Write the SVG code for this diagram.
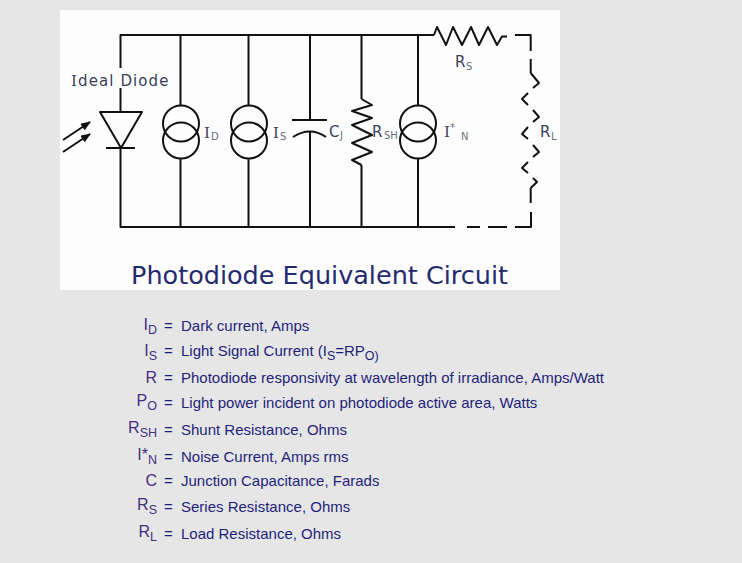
<svg xmlns="http://www.w3.org/2000/svg" width="742" height="563" viewBox="0 0 742 563">
<style>
.w{fill:none;stroke:#111;stroke-width:2;stroke-linejoin:round}
.n{fill:none;stroke:#111;stroke-width:2}
.c{font-family:"DejaVu Sans",sans-serif;font-size:15px;fill:#3a3f5c}
.i{font-family:"DejaVu Serif",serif}
.s{font-family:"DejaVu Sans",sans-serif;font-size:10px;fill:#6a6f80}
.t{font-family:"DejaVu Sans",sans-serif;font-size:25.5px;fill:#25296e}
.l{font-family:"Liberation Sans",Arial,sans-serif;font-size:15px;fill:#1f1f7a}
.k{font-family:"Liberation Sans",Arial,sans-serif;font-size:16px;fill:#42307f;text-anchor:end}
.b{font-size:12.500px}
</style>
<defs><marker id="a" markerWidth="10" markerHeight="8" refX="9" refY="4" orient="auto" markerUnits="userSpaceOnUse"><path d="M0 0L10 4L0 8z" fill="#111"/></marker>
<g id="src"><circle cx="0" cy="-8.500" r="18" class="n"/><circle cx="0" cy="8.500" r="18" class="n"/></g></defs>
<rect width="742" height="563" fill="#e6e6e6"/>
<rect x="60" y="10" width="500" height="280" fill="#fdfdfd"/>
<g id="connectors">
<path class="w" d="M120.500 68V35H434M120.500 88V112M120.500 148V227H455"/>
<path class="w" d="M180.500 35V105M180.500 158V227M248.500 35V105M248.500 158V227M310 35V120M310 132V227M361.500 35V99M361.500 165V227M418 35V105M418 158V227"/>
<path class="w" d="M467 227H480M488 227H507M515 227H531V212M530.700 203V188"/>
<path class="w" d="M434 35L437 27L446 45L453 27L462 45L471 27L479 45L488 27L497 45L502 36.500H507M515 35H530.700V51M530.700 59V73"/>
<path class="w" d="M530.700 73L539 83L533 88M528 93L522 99L528 105M533 110L539 117L533 122M528 127L522 134L528 139M533 145L539 152L533 157M528 162L522 168L528 173M533 178L537 182L530.700 188"/>
</g>
<g id="diode">
<path class="w" d="M100 112H142L121 148ZM106 148H135"/>
<path class="w" d="M63 140L90 122" marker-end="url(#a)"/><path class="w" d="M63 152L90 134" marker-end="url(#a)"/>
<text class="c" x="71" y="86" letter-spacing="1.100"><tspan class="i">I</tspan>deal Diode</text>
</g>
<g id="id-source"><use href="#src" x="181" y="132"/><text class="c i" x="204" y="138">I</text><text class="s" x="211" y="140">D</text></g>
<g id="is-source"><use href="#src" x="249" y="132"/><text class="c i" x="273" y="138">I</text><text class="s" x="280" y="140">S</text></g>
<g id="cj"><path class="n" d="M292 120H327M293 137Q310 126 326 137"/><text class="c" x="329" y="137">C</text><text class="s" x="340" y="139">J</text></g>
<g id="rsh"><path class="w" d="M361.500 99L372 105L352 111L372 118L352 125L372 135L352 143L372 152L352 160L361.500 165"/><text class="c" x="372" y="137">R</text><text class="s" x="384" y="139">SH</text></g>
<g id="in-source"><use href="#src" x="418" y="132"/><text class="c i" x="444" y="137">I</text><text class="s" x="450" y="131">*</text><text class="s" x="461" y="140">N</text></g>
<g id="rs"><text class="c" x="455" y="67">R</text><text class="s" x="466" y="70">S</text></g>
<g id="rl"><text class="c" x="540" y="137">R</text><text class="s" x="551" y="140">L</text></g>
<text class="t" x="131" y="284">Photodiode Equivalent Circuit</text>
<g id="legend">
<text class="k" x="157" y="330">I<tspan dy="4" class="b">D</tspan></text><text class="l" x="164" y="331">=</text><text class="l" x="181" y="331">Dark current, Amps</text>
<text class="k" x="157" y="356">I<tspan dy="4" class="b">S</tspan></text><text class="l" x="164" y="356">=</text><text class="l" x="181" y="356">Light Signal Current (I<tspan dy="4" class="b">S</tspan><tspan dy="-4">=RP</tspan><tspan dy="4" class="b">O)</tspan></text>
<text class="k" x="157" y="383">R</text><text class="l" x="164" y="383">=</text><text class="l" x="181" y="383">Photodiode responsivity at wavelength of irradiance, Amps/Watt</text>
<text class="k" x="157" y="406">P<tspan dy="4" class="b">O</tspan></text><text class="l" x="164" y="408">=</text><text class="l" x="181" y="408">Light power incident on photodiode active area, Watts</text>
<text class="k" x="157" y="433">R<tspan dy="4" class="b">SH</tspan></text><text class="l" x="164" y="435">=</text><text class="l" x="181" y="435">Shunt Resistance, Ohms</text>
<text class="k" x="157" y="460">I*<tspan dy="4" class="b">N</tspan></text><text class="l" x="164" y="462">=</text><text class="l" x="181" y="462">Noise Current, Amps rms</text>
<text class="k" x="157" y="486">C</text><text class="l" x="164" y="486">=</text><text class="l" x="181" y="486">Junction Capacitance, Farads</text>
<text class="k" x="157" y="510">R<tspan dy="4" class="b">S</tspan></text><text class="l" x="164" y="512">=</text><text class="l" x="181" y="512">Series Resistance, Ohms</text>
<text class="k" x="157" y="537">R<tspan dy="4" class="b">L</tspan></text><text class="l" x="164" y="539">=</text><text class="l" x="181" y="539">Load Resistance, Ohms</text>
</g>
</svg>
